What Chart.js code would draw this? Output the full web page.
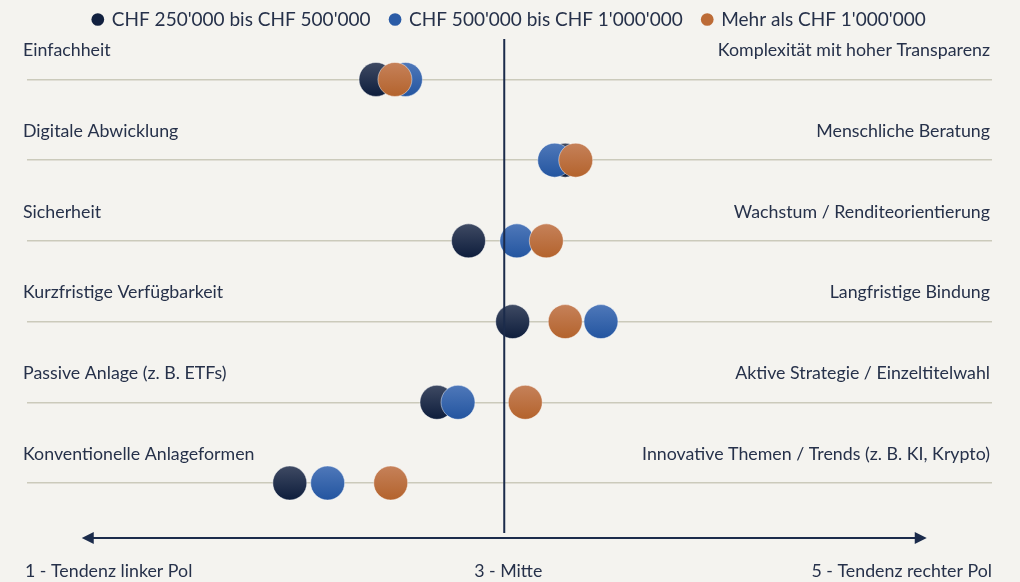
<!DOCTYPE html>
<html lang="de">
<head>
<meta charset="utf-8">
<title>Anlagepräferenzen nach Vermögen</title>
<script src="https://cdn.jsdelivr.net/npm/chart.js@4.4.1/dist/chart.umd.min.js"></script>
<style>
  html, body { margin: 0; padding: 0; background: #f4f3ef; }
  #wrap { position: relative; width: 1020px; height: 582px; }
</style>
</head>
<body>
<div id="wrap"><canvas id="pole-chart"></canvas></div>
<script>
const LEFT_POLES = [
  "Einfachheit",
  "Digitale Abwicklung",
  "Sicherheit",
  "Kurzfristige Verfügbarkeit",
  "Passive Anlage (z. B. ETFs)",
  "Konventionelle Anlageformen",
];
const RIGHT_POLES = [
  "Komplexität mit hoher Transparenz",
  "Menschliche Beratung",
  "Wachstum / Renditeorientierung",
  "Langfristige Bindung",
  "Aktive Strategie / Einzeltitelwahl",
  "Innovative Themen / Trends (z. B. KI, Krypto)",
];
const SERIES_NAMES = [
  "CHF 250'000 bis CHF 500'000",
  "CHF 500'000 bis CHF 1'000'000",
  "Mehr als CHF 1'000'000",
];
// mean position on the 1..5 scale, one value per row
const TIER_LOW = [2.39, 3.29, 2.83, 3.04, 2.68, 1.98];
const TIER_MID = [2.53, 3.24, 3.06, 3.46, 2.78, 2.16];
const TIER_HIGH = [2.48, 3.34, 3.20, 3.29, 3.10, 2.46];
const SCALE_LABELS = ["1 - Tendenz linker Pol", "3 - Mitte", "5 - Tendenz rechter Pol"];

const NAVY = "#1b2b4b";
const TEXT = "#26314a";
const FONT = "Lato, 'Noto Sans', sans-serif";

const TIER_COLORS = [
  { solid: "#11203f", top: "#404b64", bottom: "#0c1c3b" },
  { solid: "#2a5ba6", top: "#5079ba", bottom: "#22549f" },
  { solid: "#bc6b36", top: "#c6825b", bottom: "#b3622b" },
];

const toPoints = (vals) => vals.map((v, i) => ({ x: v, y: i + 1 }));

const shaded = (tier) => (ctx) => {
  const chart = ctx.chart;
  if (!chart.scales || !chart.scales.y || !ctx.raw) return tier.solid;
  const py = chart.scales.y.getPixelForValue(ctx.raw.y);
  if (!Number.isFinite(py)) return tier.solid;
  const g = chart.ctx.createLinearGradient(0, py - 18, 0, py + 18);
  g.addColorStop(0, tier.top);
  g.addColorStop(1, tier.bottom);
  return g;
};

const poleLines = {
  id: "poleLines",
  afterDatasetsDraw(chart) {
    const { ctx, chartArea, scales: { x, y } } = chart;
    ctx.save();
    ctx.font = `17.8px ${FONT}`;
    ctx.fillStyle = TEXT;
    ctx.textBaseline = "middle";
    LEFT_POLES.forEach((label, i) => {
      const py = y.getPixelForValue(i + 1) - 29;
      ctx.textAlign = "left";
      ctx.fillText(label, chartArea.left - 4, py);
      ctx.textAlign = "right";
      ctx.fillText(RIGHT_POLES[i], chartArea.right - 2, py);
    });

    const cx = x.getPixelForValue(3);
    const ay = chartArea.bottom - 2;
    ctx.strokeStyle = NAVY;
    ctx.fillStyle = NAVY;
    ctx.lineWidth = 2;
    ctx.beginPath();
    ctx.moveTo(cx, chartArea.top);
    ctx.lineTo(cx, ay - 5);
    ctx.stroke();

    const x1 = x.getPixelForValue(1);
    const x5 = x.getPixelForValue(5);
    ctx.beginPath();
    ctx.moveTo(x1 + 8, ay);
    ctx.lineTo(x5 - 8, ay);
    ctx.stroke();
    ctx.beginPath();
    ctx.moveTo(x1 - 2, ay);
    ctx.lineTo(x1 + 10, ay - 6);
    ctx.lineTo(x1 + 10, ay + 6);
    ctx.closePath();
    ctx.fill();
    ctx.beginPath();
    ctx.moveTo(x5 + 2, ay);
    ctx.lineTo(x5 - 10, ay - 6);
    ctx.lineTo(x5 - 10, ay + 6);
    ctx.closePath();
    ctx.fill();

    ctx.fillStyle = TEXT;
    const ly = chartArea.bottom + 31;
    ctx.textAlign = "left";
    ctx.fillText(SCALE_LABELS[0], chartArea.left - 2, ly);
    ctx.textAlign = "center";
    ctx.fillText(SCALE_LABELS[1], cx + 4, ly);
    ctx.textAlign = "right";
    ctx.fillText(SCALE_LABELS[2], chartArea.right, ly);
    ctx.restore();
  },
};

// highest order is drawn first: dark at the bottom, orange on top
const datasets = [TIER_LOW, TIER_MID, TIER_HIGH].map((vals, i) => ({
  label: SERIES_NAMES[i],
  data: toPoints(vals),
  order: 3 - i,
  pointRadius: 17,
  pointHoverRadius: 17,
  pointBackgroundColor: shaded(TIER_COLORS[i]),
  pointBorderColor: "rgba(255,255,255,0.45)",
  pointBorderWidth: 1,
  showLine: false,
}));

new Chart(document.getElementById("pole-chart").getContext("2d"), {
  type: "scatter",
  data: { datasets },
  options: {
    responsive: true,
    maintainAspectRatio: false,
    animation: false,
    events: [],
    layout: { padding: { left: 27, right: 28, top: -10, bottom: 42 } },
    scales: {
      x: { display: false, min: 0.73, max: 5.32 },
      y: {
        reverse: true,
        min: 0.499,
        max: 6.706,
        afterBuildTicks: (axis) => {
          axis.ticks = LEFT_POLES.map((_, i) => ({ value: i + 1 }));
        },
        ticks: { display: false },
        grid: { color: "#cbcabb", lineWidth: 1.5, drawTicks: false },
        border: { display: false },
      },
    },
    plugins: {
      tooltip: { enabled: false },
      legend: {
        position: "top",
        labels: {
          usePointStyle: true,
          boxWidth: 9,
          boxHeight: 9,
          padding: 20,
          color: TEXT,
          font: { family: FONT, size: 19 },
          generateLabels: (chart) =>
            chart.data.datasets.map((ds, i) => ({
              text: ds.label,
              fillStyle: TIER_COLORS[i].solid,
              strokeStyle: TIER_COLORS[i].solid,
              lineWidth: 0,
              pointStyle: "circle",
              datasetIndex: i,
              fontColor: TEXT,
            })),
        },
      },
    },
  },
  plugins: [poleLines],
});
</script>
</body>
</html>
